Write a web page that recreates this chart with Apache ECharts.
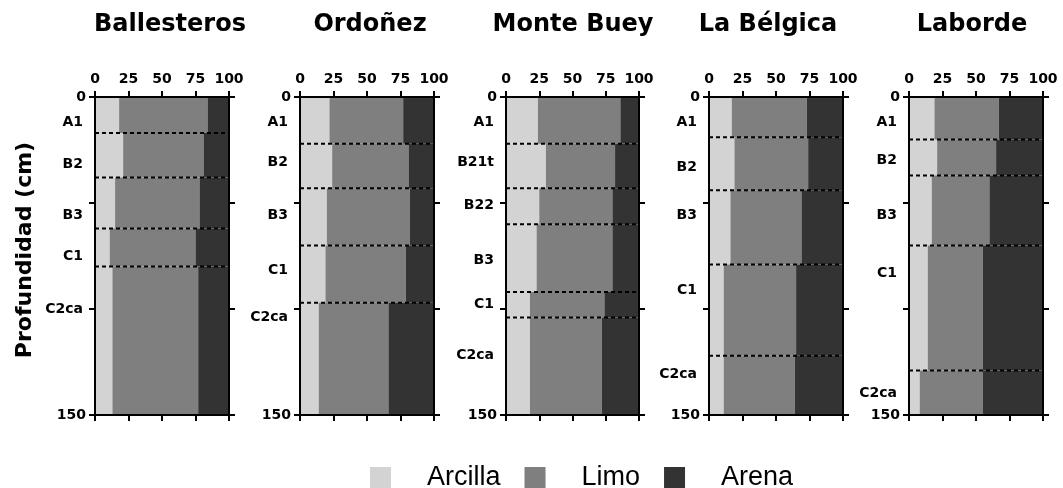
<!DOCTYPE html>
<html><head><meta charset="utf-8">
<script src="https://cdn.jsdelivr.net/npm/echarts@6/dist/echarts.min.js"></script>
<style>html,body{margin:0;padding:0;background:#fff}#c{width:1063px;height:488px}</style>
</head><body><div id="c"></div><script>
// ---------- data ----------
const sites = ['Ballesteros', 'Ordoñez', 'Monte Buey', 'La Bélgica', 'Laborde'];
const componentNames = ['Arcilla', 'Limo', 'Arena'];
const xTickLabels = [0, 25, 50, 75, 100];
const yTickLabels = [0, 150];

const ballesterosHorizons = ['A1', 'B2', 'B3', 'C1', 'C2ca'];
const ballesterosDepths = [0, 17, 38, 62, 80, 150];
const ballesterosLabelDepths = [12, 32, 56, 75, 100];
const ballesterosArcilla = [18, 21, 15, 11, 13];
const ballesterosLimo = [66, 60, 63, 64, 64];
const ballesterosArena = [16, 19, 22, 25, 23];

const ordonezHorizons = ['A1', 'B2', 'B3', 'C1', 'C2ca'];
const ordonezDepths = [0, 22, 43, 70, 97, 150];
const ordonezLabelDepths = [12, 31, 56, 82, 104];
const ordonezArcilla = [22, 24, 20, 19, 14];
const ordonezLimo = [55, 57, 62, 60, 52];
const ordonezArena = [23, 19, 18, 21, 34];

const monteBueyHorizons = ['A1', 'B21t', 'B22', 'B3', 'C1', 'C2ca'];
const monteBueyDepths = [0, 22, 43, 60, 92, 104, 150];
const monteBueyLabelDepths = [12, 31, 51, 77, 98, 122];
const monteBueyArcilla = [24, 30, 25, 23, 18, 18];
const monteBueyLimo = [62, 52, 55, 57, 56, 54];
const monteBueyArena = [14, 18, 20, 20, 26, 28];

const laBelgicaHorizons = ['A1', 'B2', 'B3', 'C1', 'C2ca'];
const laBelgicaDepths = [0, 19, 44, 79, 122, 150];
const laBelgicaLabelDepths = [12, 33, 56, 91, 131];
const laBelgicaArcilla = [17, 19, 16, 11, 11];
const laBelgicaLimo = [56, 55, 53, 54, 53];
const laBelgicaArena = [27, 26, 31, 35, 36];

const labordeHorizons = ['A1', 'B2', 'B3', 'C1', 'C2ca'];
const labordeDepths = [0, 20, 37, 70, 129, 150];
const labordeLabelDepths = [12, 30, 56, 83, 140];
const labordeArcilla = [19, 21, 17, 14, 8];
const labordeLimo = [48, 44, 43, 41, 47];
const labordeArena = [33, 35, 40, 45, 45];

// ---------- assemble ----------
const profiles = [
  [ballesterosHorizons, ballesterosDepths, ballesterosLabelDepths, [ballesterosArcilla, ballesterosLimo, ballesterosArena]],
  [ordonezHorizons, ordonezDepths, ordonezLabelDepths, [ordonezArcilla, ordonezLimo, ordonezArena]],
  [monteBueyHorizons, monteBueyDepths, monteBueyLabelDepths, [monteBueyArcilla, monteBueyLimo, monteBueyArena]],
  [laBelgicaHorizons, laBelgicaDepths, laBelgicaLabelDepths, [laBelgicaArcilla, laBelgicaLimo, laBelgicaArena]],
  [labordeHorizons, labordeDepths, labordeLabelDepths, [labordeArcilla, labordeLimo, labordeArena]]
];

// ---------- layout & style ----------
const gridLeft = [95, 300, 506, 709, 909];
const gridWidth = [134, 134, 133, 134, 134];
const gridTop = 97, gridHeight = 318;
const titleX = [165, 365, 568, 763, 967];
const colors = ['#d3d3d3', '#7f7f7f', '#333333'];
const boldFont = 'DejaVu Sans';

const grid = [], xAxis = [], yAxis = [], series = [], title = [];
const axisLineStyle = { color: '#000', width: 2 };

profiles.forEach((p, i) => {
  const [horizons, depths, labelDepths, comps] = p;
  grid.push({ left: gridLeft[i], top: gridTop, width: gridWidth[i], height: gridHeight, containLabel: false });
  title.push({ text: sites[i], left: titleX[i], top: 8, textAlign: 'center',
    textStyle: { fontFamily: boldFont, fontWeight: 'bold', fontSize: 24, color: '#000' } });
  const xBase = { gridIndex: i, type: 'value', min: 0, max: 100, interval: 25, z: 5,
    axisLine: { show: true, onZero: false, lineStyle: axisLineStyle },
    axisTick: { show: true, length: 6, lineStyle: axisLineStyle },
    splitLine: { show: false } };
  xAxis.push(Object.assign({}, xBase, { position: 'top',
    axisLabel: { show: true, margin: 11, color: '#000', fontFamily: boldFont, fontWeight: 'bold', fontSize: 14,
      formatter: v => xTickLabels.includes(v) ? String(v) : '' } }));
  xAxis.push(Object.assign({}, xBase, { position: 'bottom', axisLabel: { show: false } }));
  const yBase = { gridIndex: i, type: 'value', min: 0, max: 150, interval: 50, inverse: true, z: 5,
    axisLine: { show: true, onZero: false, lineStyle: axisLineStyle },
    axisTick: { show: true, length: 6, lineStyle: axisLineStyle },
    splitLine: { show: false } };
  yAxis.push(Object.assign({}, yBase, { position: 'left',
    axisLabel: { show: true, margin: 9, color: '#000', fontFamily: boldFont, fontWeight: 'bold', fontSize: 14,
      formatter: v => yTickLabels.includes(v) ? String(v) : '' } }));
  yAxis.push(Object.assign({}, yBase, { position: 'right', axisLabel: { show: false } }));

  comps.forEach((vals, k) => {
    const data = horizons.map((h, j) => {
      let start = 0;
      for (let m = 0; m < k; m++) start += comps[m][j];
      return [start, start + vals[j], depths[j], depths[j + 1]];
    });
    series.push({
      type: 'custom', name: componentNames[k], xAxisIndex: 2 * i, yAxisIndex: 2 * i, z: 2,
      itemStyle: { color: colors[k] },
      encode: { x: [0, 1], y: [2, 3] },
      renderItem: (params, api) => {
        const a = api.coord([api.value(0), api.value(2)]);
        const b = api.coord([api.value(1), api.value(3)]);
        return { type: 'rect', shape: { x: a[0], y: a[1], width: b[0] - a[0], height: b[1] - a[1] },
          style: { fill: colors[k], stroke: null } };
      },
      data
    });
  });

  series.push({
    type: 'custom', name: 'horizontes', xAxisIndex: 2 * i, yAxisIndex: 2 * i, z: 4, silent: true,
    encode: { x: 0, y: 1 },
    renderItem: (params, api) => {
      const top = api.value(1), lab = api.value(2);
      const children = [];
      if (top > 0) {
        const p1 = api.coord([0, top]), p2 = api.coord([100, top]);
        children.push({ type: 'line', shape: { x1: p1[0], y1: p1[1], x2: p2[0], y2: p2[1] },
          style: { stroke: '#000', lineWidth: 2, lineDash: [4, 3] } });
      }
      const t = api.coord([0, lab]);
      children.push({ type: 'text', style: { text: horizons[params.dataIndex], x: t[0] - 12, y: t[1],
        align: 'right', verticalAlign: 'middle', textAlign: 'right', textVerticalAlign: 'middle',
        font: 'bold 14px "DejaVu Sans"', fill: '#000' } });
      return { type: 'group', children };
    },
    data: horizons.map((h, j) => [0, depths[j], labelDepths[j]])
  });
});

const chart = echarts.init(document.getElementById('c'), null, { renderer: 'canvas' });
chart.setOption({
  animation: false,
  backgroundColor: '#fff',
  title, grid, xAxis, yAxis, series,
  legend: {
    data: componentNames, left: 365, top: 459, itemWidth: 21, itemHeight: 21, itemGap: 24,
    icon: 'rect', selectedMode: false,
    textStyle: { fontFamily: 'Liberation Sans', fontSize: 27, color: '#000', padding: [0, 0, 0, 31] }
  },
  graphic: [{
    type: 'text', x: 25, y: 250, rotation: Math.PI / 2,
    style: { text: 'Profundidad (cm)', font: 'bold 22px "DejaVu Sans"', fill: '#000',
      align: 'center', verticalAlign: 'middle', textAlign: 'center', textVerticalAlign: 'middle' }
  }]
});
</script></body></html>
